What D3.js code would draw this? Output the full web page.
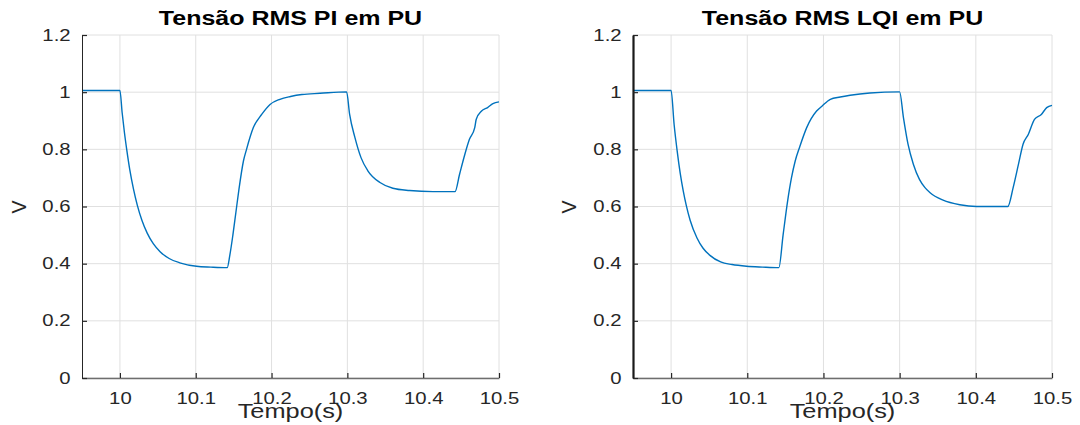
<!DOCTYPE html>
<html>
<head>
<meta charset="utf-8">
<script src="https://cdn.jsdelivr.net/npm/d3@7/dist/d3.min.js"></script>
<style>
  html, body { margin: 0; padding: 0; background: #fff; }
  svg { display: block; }
  text { font-family: "Liberation Sans", Arial, Helvetica, sans-serif; }
</style>
</head>
<body>
<svg id="chart" width="1080" height="425"></svg>
<script>
// ---------- data ----------
const titles = ["Tensão RMS PI em PU", "Tensão RMS LQI em PU"];
const xLabel = "Tempo(s)";
const yLabel = "V";
const xDomain = [9.95, 10.5];
const yDomain = [0, 1.2];
const xTicks = [10, 10.1, 10.2, 10.3, 10.4, 10.5];
const xTickLabels = ["10", "10.1", "10.2", "10.3", "10.4", "10.5"];
const yTicks = [0, 0.2, 0.4, 0.6, 0.8, 1, 1.2];
const yTickLabels = ["0", "0.2", "0.4", "0.6", "0.8", "1", "1.2"];

const tPI = [9.95, 10.0, 10.003, 10.006, 10.009, 10.013, 10.018, 10.023, 10.029, 10.036, 10.044, 10.053, 10.065, 10.079, 10.101, 10.12, 10.1415,
  10.145, 10.149, 10.153, 10.157, 10.163, 10.167, 10.176, 10.187, 10.198, 10.211, 10.225, 10.24, 10.264, 10.299,
  10.303, 10.310, 10.318, 10.327, 10.343, 10.360, 10.382, 10.413, 10.442,
  10.448, 10.455, 10.461, 10.468, 10.470, 10.477, 10.485, 10.492, 10.5];
const vPI = [1.006, 1.006, 0.927, 0.858, 0.799, 0.729, 0.66, 0.604, 0.552, 0.507, 0.47, 0.442, 0.418, 0.403, 0.391, 0.388, 0.386,
  0.43, 0.50, 0.58, 0.66, 0.76, 0.80, 0.876, 0.922, 0.957, 0.975, 0.985, 0.992, 0.996, 1.001,
  0.922, 0.841, 0.771, 0.725, 0.684, 0.664, 0.656, 0.652, 0.652,
  0.713, 0.783, 0.835, 0.876, 0.905, 0.934, 0.946, 0.960, 0.966];

const tLQI = [9.95, 10.0, 10.004, 10.008, 10.012, 10.016, 10.020, 10.025, 10.034, 10.042, 10.051, 10.065, 10.08, 10.099, 10.12, 10.1415,
  10.147, 10.153, 10.158, 10.163, 10.169, 10.178, 10.191, 10.198, 10.209, 10.222, 10.235, 10.261, 10.3,
  10.305, 10.311, 10.318, 10.326, 10.333, 10.340, 10.357, 10.379, 10.401, 10.442,
  10.449, 10.456, 10.462, 10.469, 10.477, 10.486, 10.493, 10.5];
const vLQI = [1.006, 1.006, 0.886, 0.794, 0.716, 0.654, 0.603, 0.552, 0.49, 0.454, 0.429, 0.406, 0.397, 0.391, 0.388, 0.386,
  0.50, 0.62, 0.70, 0.76, 0.81, 0.876, 0.934, 0.951, 0.975, 0.983, 0.989, 0.997, 1.001,
  0.911, 0.818, 0.748, 0.695, 0.667, 0.648, 0.622, 0.606, 0.600, 0.600,
  0.666, 0.748, 0.818, 0.853, 0.905, 0.922, 0.946, 0.954];

const series = [
  { t: tPI, v: vPI },
  { t: tLQI, v: vLQI }
];

// ---------- layout ----------
const panels = [
  { x0: 82, x1: 499, yAxisW: 1, yAxisC: "#262626", ylab: 26 },
  { x0: 633, x1: 1052, yAxisW: 2.2, yAxisC: "#1a1a1a", ylab: 576 }
];
const yTop = 35, yBot = 378;
const SX = 1.27;
const svg = d3.select("#chart");

panels.forEach((p, i) => {
  const x = d3.scaleLinear().domain(xDomain).range([p.x0, p.x1]);
  const y = d3.scaleLinear().domain(yDomain).range([yBot, yTop]);
  const g = svg.append("g");

  // grid
  g.append("g").selectAll("line").data(xTicks).join("line")
    .attr("x1", d => x(d)).attr("x2", d => x(d))
    .attr("y1", yTop).attr("y2", yBot)
    .attr("stroke", "#e0e0e0").attr("stroke-width", 1);
  g.append("g").selectAll("line").data(yTicks).join("line")
    .attr("x1", p.x0).attr("x2", p.x1)
    .attr("y1", d => y(d)).attr("y2", d => y(d))
    .attr("stroke", "#e0e0e0").attr("stroke-width", 1);

  // line
  const pts = series[i].t.map((t, k) => [t, series[i].v[k]]);
  g.append("path").datum(pts)
    .attr("fill", "none").attr("stroke", "#0072BD").attr("stroke-width", 1.4)
    .attr("stroke-linejoin", "round")
    .attr("d", d3.line().curve(d3.curveMonotoneX).x(d => x(d[0])).y(d => y(d[1])));

  // x axis
  const xa = g.append("g").attr("transform", `translate(0,${yBot})`)
    .call(d3.axisBottom(x).tickValues(xTicks)
      .tickFormat((d, k) => xTickLabels[k])
      .tickSizeInner(-5).tickSizeOuter(0).tickPadding(15));
  xa.select(".domain").attr("stroke", "#6e6e6e").attr("stroke-width", 1.6);
  xa.selectAll(".tick line").attr("stroke", "#262626").attr("stroke-width", 1.2);
  xa.selectAll(".tick text").attr("font-size", 16).attr("fill", "#262626")
    .attr("font-family", "Liberation Sans, Arial, sans-serif")
    .attr("transform", `scale(${SX},1)`);

  // y axis
  const ya = g.append("g").attr("transform", `translate(${p.x0},0)`)
    .call(d3.axisLeft(y).tickValues(yTicks)
      .tickFormat((d, k) => yTickLabels[k])
      .tickSizeInner(-5).tickSizeOuter(0).tickPadding(9));
  ya.select(".domain").attr("stroke", p.yAxisC).attr("stroke-width", p.yAxisW);
  ya.selectAll(".tick line").attr("stroke", "#262626").attr("stroke-width", 1.2);
  ya.selectAll(".tick text").attr("font-size", 16).attr("fill", "#262626")
    .attr("font-family", "Liberation Sans, Arial, sans-serif")
    .attr("transform", `scale(${SX},1)`);

  const cx = (p.x0 + p.x1) / 2;
  // title
  g.append("text")
    .attr("transform", `translate(${cx},25) scale(1.25,1)`)
    .attr("text-anchor", "middle").attr("font-weight", "bold")
    .attr("font-size", 20).attr("fill", "#000").text(titles[i]);
  // x label
  g.append("text")
    .attr("transform", `translate(${cx},418) scale(1.3,1)`)
    .attr("text-anchor", "middle").attr("font-size", 19.5).attr("fill", "#262626")
    .text(xLabel);
  // y label
  g.append("text")
    .attr("transform", `translate(${p.ylab},207) scale(1.0,1) rotate(-90)`)
    .attr("text-anchor", "middle").attr("font-size", 19.5).attr("fill", "#262626")
    .text(yLabel);
});
</script>
</body>
</html>
